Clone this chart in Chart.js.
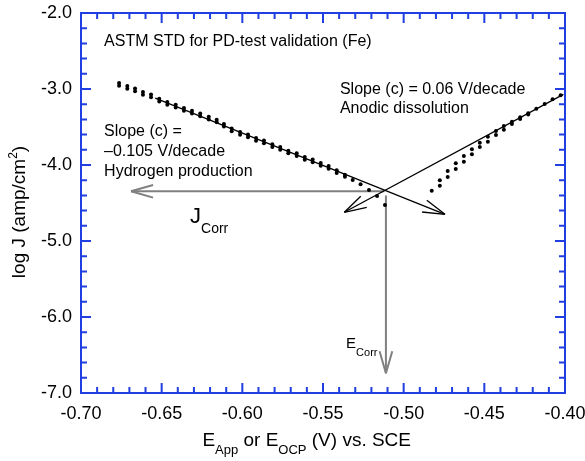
<!DOCTYPE html>
<html>
<head>
<meta charset="utf-8">
<script src="https://cdn.jsdelivr.net/npm/chart.js@4"></script>
<style>
  html, body { margin: 0; padding: 0; background: #fff; }
  #wrap { width: 585px; height: 461px; }
</style>
</head>
<body>
<div id="wrap"><canvas id="tafelChart" width="585" height="461"></canvas></div>
<script>
const FONT = '"Liberation Sans", Arial, Helvetica, sans-serif';
const AXIS_BLUE = '#1f3fe0';
const GREY = '#808080';

// cathodic branch (E in V vs SCE, log J) - dots come in close pairs, last few single
const cathE = [-0.6764, -0.6713, -0.6665, -0.6616, -0.6566, -0.6515, -0.6465, -0.6413, -0.6362, -0.6312,
  -0.6261, -0.6208, -0.6159, -0.6114, -0.6066, -0.6014, -0.5965, -0.5915, -0.5866, -0.5814,
  -0.5765, -0.5715, -0.5663, -0.5613, -0.5564, -0.5514, -0.5465, -0.5415, -0.5364, -0.5316,
  -0.5267, -0.5215, -0.5165, -0.5116];
const cathLogJUpper = [-2.920, -2.960, -2.995, -3.039, -3.074, -3.127, -3.170, -3.206, -3.249, -3.285,
  -3.324, -3.364, -3.403, -3.459, -3.521, -3.565, -3.600, -3.644, -3.679, -3.728,
  -3.762, -3.811, -3.846, -3.894, -3.929, -3.973, -4.012, -4.070, -4.128, -4.197,
  -4.254, -4.329, -4.408, -4.526];
const cathLogJLower = [-2.956, -2.996, -3.031, -3.075, -3.110, -3.163, -3.206, -3.242, -3.285, -3.321,
  -3.360, -3.400, -3.439, -3.495, -3.557, -3.601, -3.636, -3.680, -3.715, -3.764,
  -3.798, -3.847, -3.882, -3.930, -3.965, -4.009, -4.048, -4.106, -4.154, null,
  null, null, null, null];

// anodic branch
const anodE = [-0.4826, -0.4776, -0.4727, -0.4677, -0.4627, -0.4577, -0.4528, -0.4478, -0.4428,
  -0.4379, -0.4329, -0.4278, -0.4228, -0.4178, -0.4126, -0.4077, -0.4027];
const anodLogJUpper = [-4.338, -4.201, -4.079, -3.978, -3.882, -3.793, -3.707, -3.628, -3.553,
  -3.487, -3.430, -3.372, -3.320, -3.259, -3.197, -3.136, -3.083];
const anodLogJLower = [null, -4.272, -4.158, -4.053, -3.957, -3.859, -3.763, -3.693, -3.605,
  -3.536, -3.461, -3.395, -3.335, null, null, null, null];

// Tafel fits and corrosion guides; arrowhead goes on the last point
const cathTafelE = [-0.654, -0.4744];
const cathTafelLogJ = [-3.12, -4.649];
const anodTafelE = [-0.401, -0.5368];
const anodTafelLogJ = [-3.07, -4.622];
const jCorrE = [-0.512, -0.669];
const jCorrLogJ = [-4.346, -4.346];
const eCorrE = [-0.511, -0.511];
const eCorrLogJ = [-4.40, -6.741];

const xTicks = [-0.70, -0.65, -0.60, -0.55, -0.50, -0.45, -0.40];
const xTickLabels = ['-0.70', '-0.65', '-0.60', '-0.55', '-0.50', '-0.45', '-0.40'];
const yTicks = [-7, -6, -5, -4, -3, -2];
const yTickLabels = ['-7.0', '-6.0', '-5.0', '-4.0', '-3.0', '-2.0'];

const zip = (xs, ys) => xs.map((x, i) => ({ x: x, y: ys[i] })).filter(p => p.y !== null);

function dots(data) {
  return { data: data, showLine: false, pointRadius: 2, pointBackgroundColor: '#000', pointBorderWidth: 0, borderColor: '#000' };
}
function guide(data, color, width) {
  return { data: data, showLine: true, borderColor: color, borderWidth: width, pointRadius: 0, arrow: true };
}

// [text, size, dy] pieces drawn left to right
function drawRich(ctx, x, y, parts, center) {
  let w = 0;
  parts.forEach(p => { ctx.font = p[1] + 'px ' + FONT; w += ctx.measureText(p[0]).width; });
  let cx = center ? x - w / 2 : x;
  parts.forEach(p => {
    ctx.font = p[1] + 'px ' + FONT;
    ctx.fillText(p[0], cx, y + p[2]);
    cx += ctx.measureText(p[0]).width;
  });
}

const notes = [
  { x: -0.6857, y: -2.439, parts: [['ASTM STD for PD-test validation (Fe)', 16, 0]] },
  { x: -0.6857, y: -3.624, parts: [['Slope (c) =', 16, 0]] },
  { x: -0.6857, y: -3.887, parts: [['\u20130.105 V/decade', 16, 0]] },
  { x: -0.6857, y: -4.150, parts: [['Hydrogen production', 16, 0]] },
  { x: -0.5395, y: -3.070, parts: [['Slope (c) = 0.06 V/decade', 16, 0]] },
  { x: -0.5395, y: -3.320, parts: [['Anodic dissolution', 16, 0]] },
  { x: -0.6324, y: -4.759, parts: [['J', 22, 0], ['Corr', 14, 10]] },
  { x: -0.5357, y: -6.412, parts: [['E', 15, 0], ['Corr', 11, 8]] }
];

const framePlugin = {
  id: 'frame',
  afterDatasetsDraw(chart) {
    const ctx = chart.ctx, a = chart.chartArea, xs = chart.scales.x, ys = chart.scales.y;

    // open arrowheads
    chart.data.datasets.forEach((ds, i) => {
      if (!ds.arrow) return;
      const pts = chart.getDatasetMeta(i).data;
      const tip = pts[pts.length - 1], prev = pts[pts.length - 2];
      const ang = Math.atan2(prev.y - tip.y, prev.x - tip.x);
      ctx.save();
      ctx.strokeStyle = ds.borderColor;
      ctx.lineWidth = ds.borderWidth;
      ctx.beginPath();
      [-1, 1].forEach(s => {
        ctx.moveTo(tip.x + 23 * Math.cos(ang + s * 0.28), tip.y + 23 * Math.sin(ang + s * 0.28));
        ctx.lineTo(tip.x, tip.y);
      });
      ctx.stroke();
      ctx.restore();
    });

    // annotations
    ctx.save();
    ctx.fillStyle = '#000';
    ctx.textBaseline = 'alphabetic';
    ctx.textAlign = 'left';
    notes.forEach(n => drawRich(ctx, xs.getPixelForValue(n.x), ys.getPixelForValue(n.y), n.parts, false));

    // axis titles
    drawRich(ctx, 306.7, 446, [['E', 19, 0], ['App', 13, 8], [' or E', 19, 0], ['OCP', 13, 8], [' (V) vs. SCE', 19, 0]], true);
    ctx.translate(24.5, 212);
    ctx.rotate(-Math.PI / 2);
    drawRich(ctx, 0, 0, [['log J (amp/cm', 19, 0], ['2', 12, -8], [')', 19, 0]], true);
    ctx.restore();

    // blue frame with inward ticks on all sides
    ctx.save();
    ctx.strokeStyle = AXIS_BLUE;
    ctx.lineWidth = 2;
    ctx.beginPath();
    for (let k = 0; k <= 30; k++) {
      const v = -0.70 + k * 0.01;
      const len = k % 5 === 0 ? 10 : 6;
      const px = xs.getPixelForValue(v);
      ctx.moveTo(px, a.bottom); ctx.lineTo(px, a.bottom - len);
      ctx.moveTo(px, a.top); ctx.lineTo(px, a.top + len);
    }
    for (let k = 0; k <= 25; k++) {
      const v = -7 + k * 0.2;
      const len = k % 5 === 0 ? 10 : 6;
      const py = ys.getPixelForValue(v);
      ctx.moveTo(a.left, py); ctx.lineTo(a.left + len, py);
      ctx.moveTo(a.right, py); ctx.lineTo(a.right - len, py);
    }
    ctx.stroke();
    ctx.strokeRect(a.left, a.top, a.right - a.left, a.bottom - a.top);
    ctx.restore();
  }
};

new Chart(document.getElementById('tafelChart'), {
  type: 'scatter',
  data: {
    datasets: [
      dots(zip(cathE, cathLogJUpper)),
      dots(zip(cathE, cathLogJLower)),
      dots(zip(anodE, anodLogJUpper)),
      dots(zip(anodE, anodLogJLower)),
      guide(zip(cathTafelE, cathTafelLogJ), '#000', 1.3),
      guide(zip(anodTafelE, anodTafelLogJ), '#000', 1.3),
      guide(zip(jCorrE, jCorrLogJ), GREY, 2),
      guide(zip(eCorrE, eCorrLogJ), GREY, 2)
    ]
  },
  options: {
    responsive: false,
    devicePixelRatio: 1,
    animation: false,
    layout: { padding: { top: 13, right: 20, left: 0, bottom: 0 } },
    plugins: { legend: { display: false }, tooltip: { enabled: false } },
    scales: {
      x: {
        type: 'linear', min: -0.70, max: -0.40,
        grid: { display: false, drawTicks: false },
        border: { display: false },
        afterBuildTicks: s => { s.ticks = xTicks.map(v => ({ value: v })); },
        afterFit: s => { s.height = 68; s.paddingLeft = 0; s.paddingRight = 0; },
        ticks: {
          callback: (v, i) => xTickLabels[i],
          font: { family: FONT, size: 18 }, color: '#000',
          padding: 10, maxRotation: 0, autoSkip: false
        }
      },
      y: {
        type: 'linear', min: -7, max: -2,
        grid: { display: false, drawTicks: false },
        border: { display: false },
        afterBuildTicks: s => { s.ticks = yTicks.map(v => ({ value: v })); },
        afterFit: s => { s.width = 81; s.paddingTop = 0; s.paddingBottom = 0; },
        ticks: {
          callback: (v, i) => yTickLabels[i],
          font: { family: FONT, size: 18 }, color: '#000',
          padding: 9, autoSkip: false
        }
      }
    }
  },
  plugins: [framePlugin]
});
</script>
</body>
</html>
